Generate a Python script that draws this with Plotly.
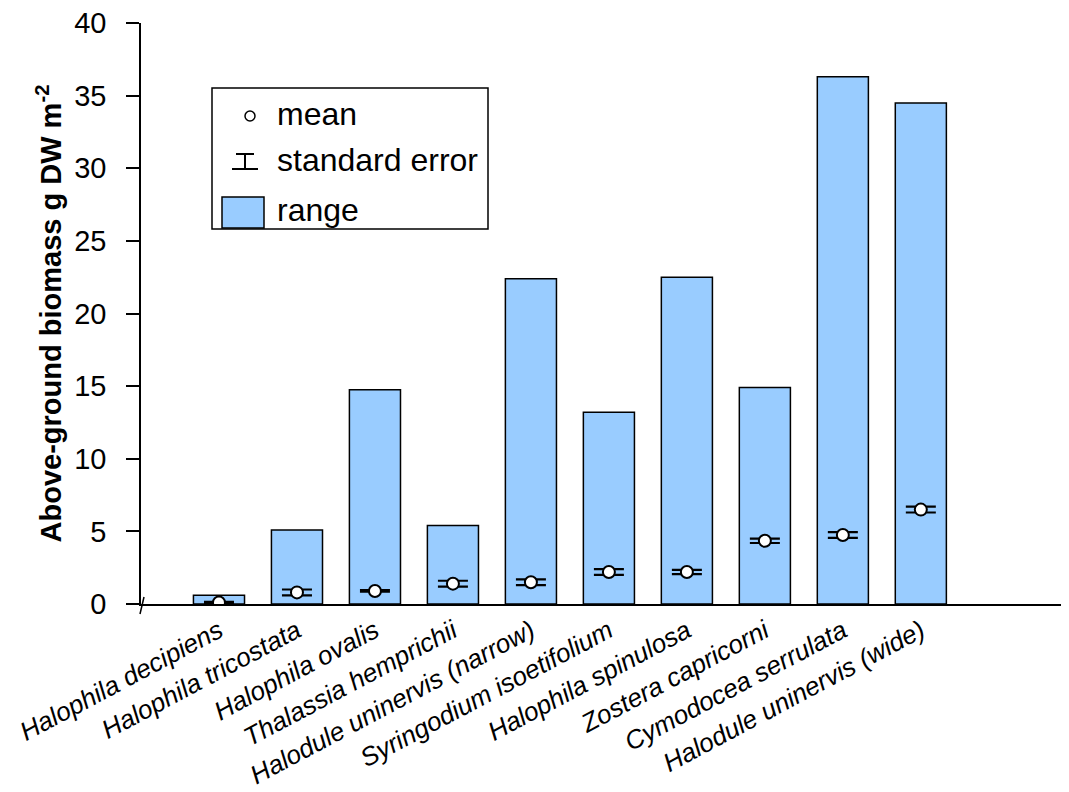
import plotly.graph_objects as go

species = ["Halophila decipiens", "Halophila tricostata", "Halophila ovalis",
           "Thalassia hemprichii", "Halodule uninervis (narrow)", "Syringodium isoetifolium",
           "Halophila spinulosa", "Zostera capricorni", "Cymodocea serrulata",
           "Halodule uninervis (wide)"]
range_min = [0, 0, 0, 0, 0, 0, 0, 0, 0, 0]
range_max = [0.6, 5.1, 14.75, 5.4, 22.4, 13.2, 22.5, 14.9, 36.3, 34.5]
mean_vals = [0.1, 0.8, 0.9, 1.4, 1.5, 2.2, 2.2, 4.35, 4.75, 6.5]
se_vals = [0.05, 0.2, 0.05, 0.2, 0.2, 0.2, 0.15, 0.15, 0.2, 0.2]
positions = list(range(1, len(species) + 1))
y_ticks = [0, 5, 10, 15, 20, 25, 30, 35, 40]

OFF = 8  # page body margin
W, H = 1069 - OFF, 792 - OFF
L, R, T, B = 141 - OFF, 0, 23 - OFF, 792 - 604
PW, PH = W - L - R, H - T - B

def px(x):
    return (x - OFF - L) / PW

def py(y):
    return (H - B - (y - OFF)) / PH

fig = go.Figure()
fig.add_trace(go.Bar(
    x=positions, y=[mx - mn for mx, mn in zip(range_max, range_min)], base=range_min,
    width=0.655, marker=dict(color="#99CCFF", line=dict(color="black", width=1.5)),
    showlegend=False, hoverinfo="skip"))
fig.add_trace(go.Scatter(
    x=positions, y=mean_vals, mode="markers",
    marker=dict(size=12, color="white", line=dict(color="black", width=2)),
    error_y=dict(type="data", array=se_vals, visible=True, color="black", thickness=2.2, width=15),
    showlegend=False))

font = "Liberation Sans, Arial, sans-serif"
shapes = []
annotations = []
shapes.append(dict(type="rect", xref="paper", yref="paper", x0=px(212), x1=px(488),
                   y0=py(229), y1=py(88), line=dict(color="black", width=1.5), fillcolor="white"))
shapes.append(dict(type="circle", xref="paper", yref="paper", x0=px(245), x1=px(255),
                   y0=py(121), y1=py(111), line=dict(color="black", width=1.5), fillcolor="white"))
shapes.append(dict(type="line", xref="paper", yref="paper", x0=px(236), x1=px(254),
                   y0=py(154), y1=py(154), line=dict(color="black", width=2)))
shapes.append(dict(type="line", xref="paper", yref="paper", x0=px(245), x1=px(245),
                   y0=py(154), y1=py(169), line=dict(color="black", width=2)))
shapes.append(dict(type="line", xref="paper", yref="paper", x0=px(232), x1=px(258),
                   y0=py(169), y1=py(169), line=dict(color="black", width=2)))
shapes.append(dict(type="rect", xref="paper", yref="paper", x0=px(222), x1=px(264),
                   y0=py(228), y1=py(197), line=dict(color="black", width=1.5), fillcolor="#99CCFF"))
shapes.append(dict(type="line", xref="paper", yref="paper", x0=px(144), x1=px(140),
                   y0=py(597), y1=py(614), line=dict(color="black", width=1.5)))

for txt, yy in [("mean", 114), ("standard error", 160), ("range", 210)]:
    annotations.append(dict(text=txt, xref="paper", yref="paper", x=px(275), y=py(yy),
                            xanchor="left", yanchor="middle", showarrow=False,
                            font=dict(family=font, size=32, color="black")))

fig.update_layout(
    width=W, height=H, margin=dict(l=L, r=R, t=T, b=B, autoexpand=False),
    plot_bgcolor="white", paper_bgcolor="white",
    font=dict(family=font, color="black"),
    shapes=shapes, annotations=annotations,
    xaxis=dict(range=[0, 11.9], tickvals=positions,
               ticktext=["<i>" + s + "</i>" for s in species],
               tickangle=-28, ticks="", showline=True, linecolor="black", linewidth=1.5,
               showgrid=False, zeroline=False, ticklabeloverflow="allow",
               tickfont=dict(family=font, size=26, color="black")),
    yaxis=dict(range=[0, 40.001], tickvals=y_ticks, ticks="outside", ticklen=13, tickwidth=1.5,
               tickcolor="black", showline=True, linecolor="black", linewidth=1.5,
               showgrid=False, zeroline=False, ticklabelstandoff=14, ticklabeloverflow="allow",
               tickfont=dict(family=font, size=29, color="black")),
)
fig.update_yaxes(title=dict(text="<b>Above-ground biomass g DW m<sup>-2</sup></b>", standoff=4,
                            font=dict(family=font, size=29, color="black")))
fig.write_html("out.html")
